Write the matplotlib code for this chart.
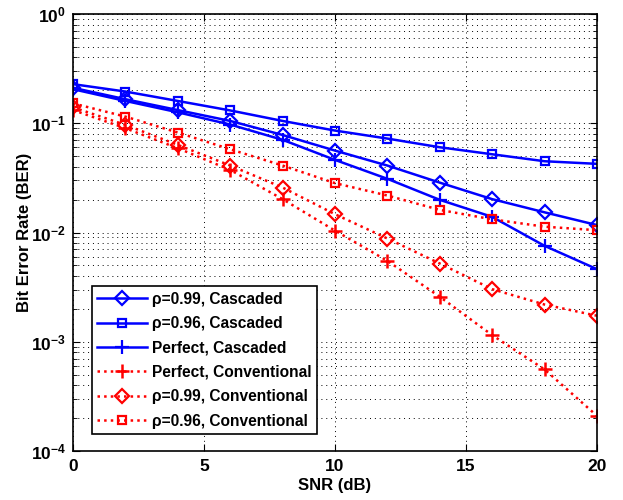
import numpy as np
import matplotlib
matplotlib.use("Agg")
import matplotlib.pyplot as plt
from matplotlib.ticker import LogLocator, NullFormatter

plt.rcParams['font.family'] = ['Liberation Sans', 'DejaVu Sans']

snr = [0, 2, 4, 6, 8, 10, 12, 14, 16, 18, 20]

# cascaded
ber_099_casc = [0.211, 0.166, 0.132, 0.105, 0.0781, 0.0562, 0.0410, 0.0286, 0.0202, 0.0153, 0.0117]
ber_096_casc = [0.228, 0.195, 0.160, 0.131, 0.105, 0.0857, 0.0724, 0.0603, 0.0520, 0.0449, 0.0425]
ber_perf_casc = [0.205, 0.160, 0.126, 0.0973, 0.0705, 0.0462, 0.0310, 0.0199, 0.0139, 0.00755, 0.00462]

# conventional
ber_perf_conv = [0.132, 0.0900, 0.0591, 0.0374, 0.0202, 0.0104, 0.0055, 0.00258, 0.00115, 0.000558, 0.00021]
ber_099_conv = [0.140, 0.0966, 0.0634, 0.0410, 0.0258, 0.0147, 0.00881, 0.0052, 0.00303, 0.00219, 0.00173]
ber_096_conv = [0.152, 0.115, 0.0822, 0.0578, 0.0410, 0.0283, 0.0218, 0.0161, 0.0132, 0.0113, 0.0105]

fig = plt.figure(figsize=(6.23, 5.0), dpi=100)
ax = fig.add_axes([0.1172, 0.098, 0.841, 0.874])

lw = 1.8
ax.semilogy(snr, ber_099_casc, '-', color='b', lw=lw, marker='D', ms=7, mfc='none', mew=1.6,
            label=u'\u03c1=0.99, Cascaded')
ax.semilogy(snr, ber_096_casc, '-', color='b', lw=lw, marker='s', ms=6, mfc='none', mew=1.6,
            label=u'\u03c1=0.96, Cascaded')
ax.semilogy(snr, ber_perf_casc, '-', color='b', lw=lw, marker='+', ms=10, mew=1.6,
            label='Perfect, Cascaded')
ax.semilogy(snr, ber_perf_conv, ':', color='r', lw=lw, marker='+', ms=10, mew=1.8,
            label='Perfect, Conventional')
ax.semilogy(snr, ber_099_conv, ':', color='r', lw=lw, marker='D', ms=7, mfc='none', mew=1.6,
            label=u'\u03c1=0.99, Conventional')
ax.semilogy(snr, ber_096_conv, ':', color='r', lw=lw, marker='s', ms=6, mfc='none', mew=1.6,
            label=u'\u03c1=0.96, Conventional')

ax.set_xlim(0, 20)
ax.set_ylim(1e-4, 1)
ax.set_xticks([0, 5, 10, 15, 20])
ax.yaxis.set_major_locator(LogLocator(base=10, numticks=10))
ax.yaxis.set_minor_locator(LogLocator(base=10, subs=np.arange(2, 10), numticks=20))
ax.yaxis.set_minor_formatter(NullFormatter())

ax.grid(True, which='major', color='k', linestyle=(0, (1, 4)), lw=0.7)
ax.grid(True, which='minor', axis='y', color='k', linestyle=(0, (1, 4)), lw=0.7)

ax.tick_params(which='both', direction='in', top=True, right=True)
ax.tick_params(which='major', length=5, labelsize=12.5, width=0.8)
ax.tick_params(axis='x', which='major', pad=6)
ax.tick_params(axis='y', which='major', pad=5)
ax.tick_params(which='minor', length=3, width=0.6)
for lab in ax.get_xticklabels() + ax.get_yticklabels():
    lab.set_fontweight('bold')
for sp in ax.spines.values():
    sp.set_linewidth(1.2)

ax.set_xlabel('SNR (dB)', fontsize=12, fontweight='bold')
ax.set_ylabel('Bit Error Rate (BER)', fontsize=12, fontweight='bold')
ax.xaxis.set_label_coords(0.5, -0.062)
ax.yaxis.set_label_coords(-0.078, 0.5)

leg = ax.legend(loc='lower left', bbox_to_anchor=(0.036, 0.039),
                prop={'weight': 'bold', 'size': 11.2},
                handlelength=3.2, labelspacing=0.6, borderpad=0.35, handletextpad=0.3,
                fancybox=False, framealpha=1, edgecolor='k', borderaxespad=0)
leg.get_frame().set_linewidth(1.2)

fig.savefig('out.png', dpi=100)
